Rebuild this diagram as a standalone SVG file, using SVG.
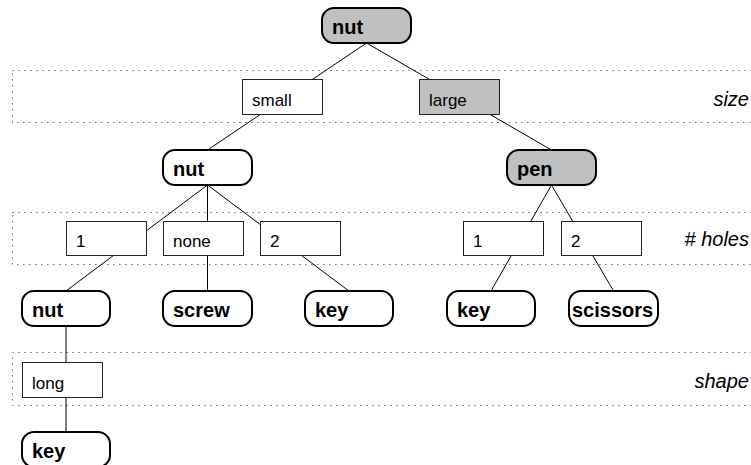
<svg xmlns="http://www.w3.org/2000/svg" width="751" height="465" viewBox="0 0 751 465">
  <style>
    .band { fill: none; stroke: #444; stroke-width: 1; stroke-dasharray: 1.2 4.8; }
    .node rect { stroke: #000; stroke-width: 2; }
    .node text { font-family: "Liberation Sans", Arial, sans-serif; font-weight: bold; font-size: 20px; fill: #000; }
    .plain rect { fill: #fff; }
    .grey rect { fill: #c0c0c0; }
    .val rect { stroke: #222; stroke-width: 1; }
    .val text { font-family: "Liberation Sans", Arial, sans-serif; font-size: 17px; fill: #000; }
    .attr { font-family: "Liberation Sans", Arial, sans-serif; font-style: italic; font-size: 20px; fill: #000; text-anchor: end; }
    .edges line { stroke: #000; stroke-width: 1; }
  </style>
  <rect width="751" height="465" fill="#fff"/>

  <!-- attribute bands -->
  <g id="bands">
    <rect class="band" x="12.5" y="70.5" width="760" height="52"/>
    <rect class="band" x="12.5" y="212.5" width="760" height="52"/>
    <rect class="band" x="12.5" y="352.5" width="760" height="53"/>
    <text class="attr" x="749" y="106">size</text>
    <text class="attr" x="749" y="246">#<tspan> holes</tspan></text>
    <text class="attr" x="749" y="388">shape</text>
  </g>

  <!-- connectors run centre to centre; value boxes are drawn over them -->
  <g id="connectors" class="edges">
    <line x1="366.5" y1="43" x2="207.5" y2="150"/>
    <line x1="366.5" y1="43" x2="551.5" y2="150"/>
    <line x1="207.5" y1="185" x2="66" y2="291"/>
    <line x1="207.5" y1="185" x2="207.5" y2="291"/>
    <line x1="207.5" y1="185" x2="349" y2="291"/>
    <line x1="551.5" y1="185" x2="491" y2="291"/>
    <line x1="551.5" y1="185" x2="613.5" y2="291"/>
    <line x1="66" y1="326" x2="66" y2="432"/>
  </g>

  <!-- value boxes -->
  <g id="v-small" class="val plain"><rect x="242.5" y="79.5" width="80" height="35"/><text x="252" y="106">small</text></g>
  <g id="v-large" class="val grey"><rect x="419.5" y="79.5" width="80" height="35"/><text x="429" y="106">large</text></g>
  <g id="v-1a" class="val plain"><rect x="66.5" y="221.5" width="80" height="34"/><text x="76" y="247">1</text></g>
  <g id="v-none" class="val plain"><rect x="163.5" y="221.5" width="80" height="34"/><text x="173" y="247">none</text></g>
  <g id="v-2a" class="val plain"><rect x="260.5" y="221.5" width="80" height="34"/><text x="270" y="247">2</text></g>
  <g id="v-1b" class="val plain"><rect x="463.5" y="221.5" width="80" height="34"/><text x="473" y="247">1</text></g>
  <g id="v-2b" class="val plain"><rect x="561.5" y="221.5" width="80" height="34"/><text x="571" y="247">2</text></g>
  <g id="v-long" class="val plain"><rect x="22.5" y="362.5" width="80" height="35"/><text x="32" y="389">long</text></g>

  <!-- tree nodes -->
  <g id="n-root" class="node grey"><rect x="322" y="8" width="89" height="35" rx="12"/><text x="332" y="34">nut</text></g>
  <g id="n-nut" class="node plain"><rect x="163" y="150" width="89" height="35" rx="12"/><text x="173" y="176">nut</text></g>
  <g id="n-pen" class="node grey"><rect x="507" y="150" width="89" height="35" rx="12"/><text x="517" y="176">pen</text></g>
  <g id="n-nut2" class="node plain"><rect x="22" y="291" width="88" height="35" rx="12"/><text x="32" y="317">nut</text></g>
  <g id="n-screw" class="node plain"><rect x="163" y="291" width="89" height="35" rx="12"/><text x="173" y="317">screw</text></g>
  <g id="n-key1" class="node plain"><rect x="305" y="291" width="88" height="35" rx="12"/><text x="315" y="317">key</text></g>
  <g id="n-key2" class="node plain"><rect x="447" y="291" width="88" height="35" rx="12"/><text x="457" y="317">key</text></g>
  <g id="n-scissors" class="node plain"><rect x="569" y="291" width="89" height="35" rx="12"/><text x="572" y="317">scissors</text></g>
  <g id="n-key3" class="node plain"><rect x="22" y="432" width="88" height="35" rx="12"/><text x="32" y="458">key</text></g>
</svg>
